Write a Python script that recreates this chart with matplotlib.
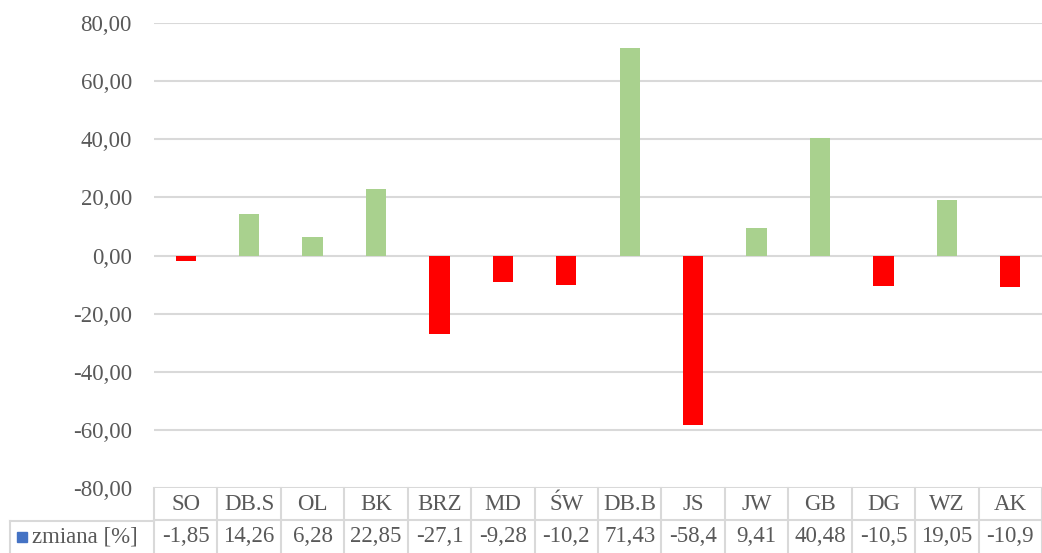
import numpy as np
import matplotlib.pyplot as plt
from matplotlib.patches import Rectangle
from matplotlib.transforms import blended_transform_factory

categories = ['SO', 'DB.S', 'OL', 'BK', 'BRZ', 'MD', 'ŚW', 'DB.B', 'JS', 'JW', 'GB', 'DG', 'WZ', 'AK']
values = [-1.85, 14.26, 6.28, 22.85, -27.1, -9.28, -10.2, 71.43, -58.4, 9.41, 40.48, -10.5, 19.05, -10.9]
value_labels = ['-1,85', '14,26', '6,28', '22,85', '-27,1', '-9,28', '-10,2', '71,43',
                '-58,4', '9,41', '40,48', '-10,5', '19,05', '-10,9']
series_name = 'zmiana [%]'
yticks = [-80, -60, -40, -20, 0, 20, 40, 60, 80]

plt.rcParams['font.family'] = ['Liberation Serif', 'DejaVu Serif']
txt = '#595959'
grid = '#D9D9D9'
fs = 16.5

W, H = 1042, 553
fig = plt.figure(figsize=(W / 100, H / 100), dpi=100)
left, right, top, bottom = 154, 1042, 23, 488
ax = fig.add_axes([left / W, 1 - bottom / H, (right - left) / W, (bottom - top) / H])

x = np.arange(len(categories))
colors = ['#A9D18E' if v >= 0 else '#FF0000' for v in values]
ax.bar(x, values, width=0.32, color=colors, zorder=3)

ax.set_xlim(-0.5, len(categories) - 0.5)
ax.set_ylim(-80, 80)
ax.set_yticks(yticks)
ax.set_yticklabels([f'{t:.2f}'.replace('.', ',') for t in yticks], color=txt, fontsize=fs)
ax.tick_params(axis='y', length=0, pad=16)
ax.tick_params(axis='x', length=0, labelbottom=False)
for t in yticks:
    ax.axhline(t, color=grid, lw=1.5, zorder=1)
for s in ax.spines.values():
    s.set_visible(False)

# data table under the plot
tr = blended_transform_factory(ax.transData, ax.transAxes)
ph = bottom - top
row1 = -32 / ph
row2 = -66 / ph
lw = 1.5
for i in range(len(categories) + 1):
    ax.plot([i - 0.5, i - 0.5], [0, row2], transform=tr, color=grid, lw=lw, clip_on=False)
ax.plot([-0.5, len(categories) - 0.5], [row1, row1], transform=tr, color=grid, lw=lw, clip_on=False)
# left header cell
fx0 = 10 / W
fig.add_artist(plt.Line2D([fx0, left / W], [1 - 520.5 / H] * 2, color=grid, lw=lw))
fig.add_artist(plt.Line2D([fx0, fx0], [1 - 520.5 / H, 0], color=grid, lw=lw))

for i, (c, vl) in enumerate(zip(categories, value_labels)):
    ax.text(i, row1 / 2, c, transform=tr, ha='center', va='center', color=txt, fontsize=fs)
    ax.text(i, (row1 + row2) / 2, vl, transform=tr, ha='center', va='center', color=txt, fontsize=fs)

ty = 1 - 537 / H
fig.add_artist(Rectangle((17 / W, ty - 5 / H), 10 / W, 10 / H, color='#4472C4', transform=fig.transFigure))
fig.text(32 / W, ty, series_name, ha='left', va='center', color=txt, fontsize=fs)

fig.savefig('out.png', dpi=100)
